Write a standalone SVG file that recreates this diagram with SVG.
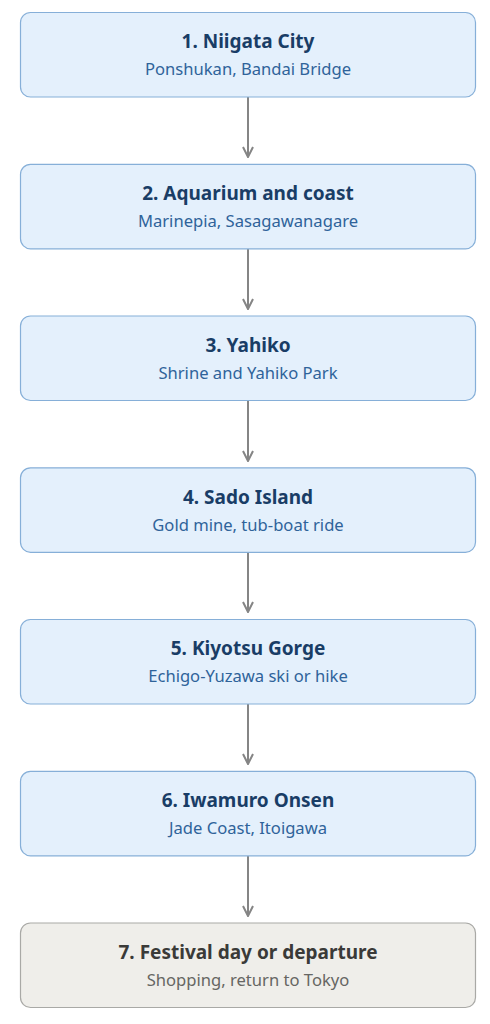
<svg xmlns="http://www.w3.org/2000/svg" width="490" height="1024" viewBox="0 0 490 1024">
<style>
.box{fill:#e4f0fc;stroke:#86afd8;stroke-width:1.2}
.boxg{fill:#efeeea;stroke:#a9a9a6;stroke-width:1.2}
.t{font-family:"Noto Sans","Open Sans",sans-serif;font-size:19px;font-weight:bold;fill:#193d66;text-anchor:middle}
.s{font-family:"Noto Sans","Open Sans",sans-serif;font-size:16.6px;fill:#2f639a;text-anchor:middle}
.tg{font-family:"Noto Sans","Open Sans",sans-serif;font-size:19px;font-weight:bold;fill:#3a3a38;text-anchor:middle}
.sg{font-family:"Noto Sans","Open Sans",sans-serif;font-size:16.6px;fill:#666663;text-anchor:middle}
.c{stroke:#858585;stroke-width:2;fill:none}
</style>
<defs>
<marker id="a" viewBox="0 0 12 12" refX="11" refY="6" markerWidth="12" markerHeight="12" markerUnits="userSpaceOnUse" orient="auto">
<path d="M1,1 L11,6 L1,11" fill="none" stroke="#858585" stroke-width="2"/>
</marker>
</defs>
<g id="connectors">
<line class="c" x1="248" y1="97" x2="248" y2="157" marker-end="url(#a)"/>
<line class="c" x1="248" y1="249" x2="248" y2="309" marker-end="url(#a)"/>
<line class="c" x1="248" y1="401" x2="248" y2="461" marker-end="url(#a)"/>
<line class="c" x1="248" y1="552" x2="248" y2="612" marker-end="url(#a)"/>
<line class="c" x1="248" y1="704" x2="248" y2="764" marker-end="url(#a)"/>
<line class="c" x1="248" y1="856" x2="248" y2="916" marker-end="url(#a)"/>
</g>
<g id="n1"><rect class="box" x="20.5" y="12.5" width="455" height="84.5" rx="10"/><text class="t" x="248" y="48">1. Niigata City</text><text class="s" x="248" y="75">Ponshukan, Bandai Bridge</text></g>
<g id="n2"><rect class="box" x="20.5" y="164.3" width="455" height="84.5" rx="10"/><text class="t" x="248" y="200">2. Aquarium and coast</text><text class="s" x="248" y="227">Marinepia, Sasagawanagare</text></g>
<g id="n3"><rect class="box" x="20.5" y="316" width="455" height="84.5" rx="10"/><text class="t" x="248" y="352">3. Yahiko</text><text class="s" x="248" y="379">Shrine and Yahiko Park</text></g>
<g id="n4"><rect class="box" x="20.5" y="467.8" width="455" height="84.5" rx="10"/><text class="t" x="248" y="503.5">4. Sado Island</text><text class="s" x="248" y="530.5">Gold mine, tub-boat ride</text></g>
<g id="n5"><rect class="box" x="20.5" y="619.5" width="455" height="84.5" rx="10"/><text class="t" x="248" y="655">5. Kiyotsu Gorge</text><text class="s" x="248" y="682">Echigo-Yuzawa ski or hike</text></g>
<g id="n6"><rect class="box" x="20.5" y="771.3" width="455" height="84.5" rx="10"/><text class="t" x="248" y="807">6. Iwamuro Onsen</text><text class="s" x="248" y="834">Jade Coast, Itoigawa</text></g>
<g id="n7"><rect class="boxg" x="20.5" y="923" width="455" height="84.5" rx="10"/><text class="tg" x="248" y="959">7. Festival day or departure</text><text class="sg" x="248" y="986">Shopping, return to Tokyo</text></g>
</svg>
